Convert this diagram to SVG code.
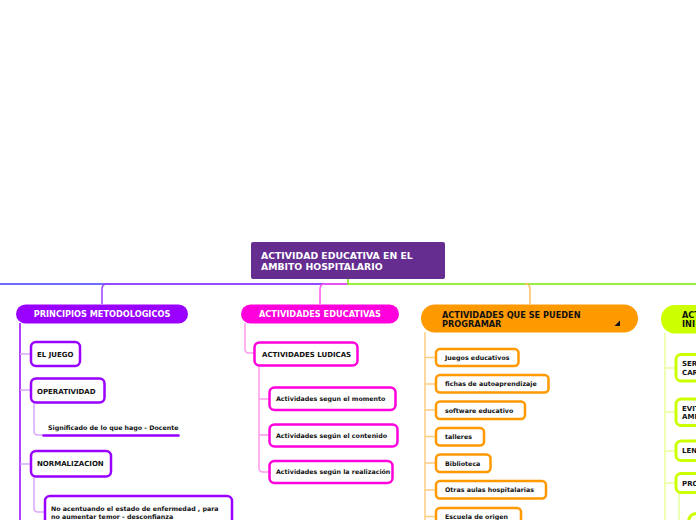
<svg xmlns="http://www.w3.org/2000/svg" width="696" height="520" viewBox="0 0 696 520">
<style>
text{font-family:"DejaVu Sans",Verdana,sans-serif;font-weight:bold;fill:#111}
.t0{font-size:9.3px;fill:#fff}
.t1{font-size:8.2px}
.w{fill:#fff}
.c{font-size:7px}
.l{font-size:6.3px}
.bp{fill:#fff;stroke:#9900ff;stroke-width:2.5}
.bm{fill:#fff;stroke:#ff00dd;stroke-width:2.5}
.bo{fill:#fff;stroke:#ff9900;stroke-width:2.5}
.bl{fill:#fff;stroke:#ccff00;stroke-width:3}
.k{fill:none;stroke-width:1.5}
.kp{stroke:#d9a8ff}
.km{stroke:#ff99ee}
.ko{stroke:#ffcc80}
.kl{stroke:#e8ff99}
</style>
<g id="connectors">
<path class="k" d="M0 284H348" stroke="#3b3bff"/>
<path class="k" d="M102 304V289Q102 284 107 284H348" stroke="#a040ff"/>
<path class="k" d="M320 304V289Q320 284 325 284H348" stroke="#ff55ee"/>
<path class="k" d="M348 279V284H696" stroke="#77e800"/>
<path class="k" d="M530 304V289Q530 284 525 284" stroke="#ffc060"/>
<path class="k" d="M20 323V520" stroke="#9900ff" stroke-width="2"/>
<path class="k kp" d="M20 354H31M20 390H31M20 464H31"/>
<path class="k kp" d="M34 403V431Q34 435 38 435H43"/>
<path class="k kp" d="M34 477V508Q34 512 38 512H45"/>
<path class="k km" d="M245 323V349Q245 353 249 353H255"/>
<path class="k km" d="M259 366V468Q259 472 263 472H270M259 399H270M259 435H270"/>
<path class="k ko" d="M425 332V520" stroke-width="2"/>
<path class="k ko" d="M425 357.5H436M425 384H436M425 410H436M425 436.5H436M425 463H436M425 490H436M425 516.5H436"/>
<path class="k kl" d="M665 333V520" stroke-width="2"/>
<path class="k kl" d="M665 368H676M665 412H676M665 451H676M665 483H676M679 493V520"/>
</g>
<g id="center">
<rect x="251" y="242" width="194" height="37" rx="2" fill="#662d91"/>
<text class="t0" x="261" y="259">ACTIVIDAD EDUCATIVA EN EL</text>
<text class="t0" x="261" y="270">AMBITO HOSPITALARIO</text>
</g>
<g id="principios">
<rect x="16" y="304.5" width="172" height="19" rx="9.5" fill="#9900ff"/>
<text class="t1 w" x="102" y="317" text-anchor="middle">PRINCIPIOS METODOLOGICOS</text>
</g>
<g id="el-juego"><rect class="bp" x="31" y="342" width="49" height="24" rx="5"/><text class="c" x="37" y="356.5">EL JUEGO</text></g>
<g id="operatividad"><rect class="bp" x="31" y="378.5" width="73.5" height="24" rx="5"/><text class="c" x="37" y="394">OPERATIVIDAD</text></g>
<g id="significado"><text class="l" x="48" y="430">Significado de lo que hago - Docente</text><path d="M43.5 435.5H178.5" stroke="#9900ff" stroke-width="2.5" stroke-linecap="round"/></g>
<g id="normalizacion"><rect class="bp" x="31" y="451" width="80" height="25.5" rx="5"/><text class="c" x="37" y="466">NORMALIZACION</text></g>
<g id="no-acentuando"><rect class="bp" x="45" y="496" width="187" height="40" rx="5"/><text class="l" x="51" y="510.5">No acentuando el estado de enfermedad , para</text><text class="l" x="51" y="518.5">no aumentar temor - desconfianza</text></g>
<g id="actividades-educativas">
<rect x="241" y="304.5" width="158" height="19" rx="9.5" fill="#ff00dd"/>
<text class="t1 w" x="320" y="317" text-anchor="middle">ACTIVIDADES EDUCATIVAS</text>
</g>
<g id="ludicas"><rect class="bm" x="254.5" y="342.5" width="103" height="23" rx="5"/><text class="c" x="262" y="356.5">ACTIVIDADES LUDICAS</text></g>
<g id="momento"><rect class="bm" x="269.5" y="387.5" width="126" height="22.5" rx="5"/><text class="l" x="276" y="401">Actividades segun el momento</text></g>
<g id="contenido"><rect class="bm" x="269.5" y="424.5" width="128" height="22" rx="5"/><text class="l" x="276" y="437.5">Actividades según el contenido</text></g>
<g id="realizacion"><rect class="bm" x="269.5" y="461" width="123" height="22" rx="5"/><text class="l" x="276" y="474">Actividades según la realización</text></g>
<g id="programar">
<rect x="421" y="304.5" width="217" height="28" rx="14" fill="#ff9900"/>
<text class="t1" x="442" y="317.5">ACTIVIDADES QUE SE PUEDEN</text>
<text class="t1" x="442" y="326.5">PROGRAMAR</text>
<path d="M620 320.5V326H614.5Z" fill="#111"/>
</g>
<g id="juegos"><rect class="bo" x="436" y="349" width="82.5" height="17" rx="4"/><text class="l" x="445" y="359.5">Juegos educativos</text></g>
<g id="fichas"><rect class="bo" x="436" y="375" width="112.5" height="17.5" rx="4"/><text class="l" x="445" y="386">fichas de autoaprendizaje</text></g>
<g id="software"><rect class="bo" x="436" y="401.5" width="89" height="17.5" rx="4"/><text class="l" x="445" y="412.5">software educativo</text></g>
<g id="talleres"><rect class="bo" x="436" y="428" width="48" height="17.5" rx="4"/><text class="l" x="445" y="439">talleres</text></g>
<g id="biblioteca"><rect class="bo" x="436" y="454.5" width="54.5" height="17.5" rx="4"/><text class="l" x="445" y="465.5">Biblioteca</text></g>
<g id="otras-aulas"><rect class="bo" x="436" y="481" width="110" height="17.5" rx="4"/><text class="l" x="445" y="492">Otras aulas hospitalarias</text></g>
<g id="escuela"><rect class="bo" x="436" y="508" width="85" height="17.5" rx="4"/><text class="l" x="445" y="518.5">Escuela de origen</text></g>
<g id="lime-node">
<rect x="661" y="305" width="60" height="28.5" rx="14" fill="#ccff00"/>
<text class="t1" x="682" y="317.5">ACT</text>
<text class="t1" x="682" y="326.5">INI</text>
</g>
<g id="ser"><rect class="bl" x="676" y="354.5" width="40" height="26.5" rx="5"/><text class="c" x="682" y="366">SER</text><text class="c" x="682" y="374.5">CAR</text></g>
<g id="evit"><rect class="bl" x="676" y="399" width="40" height="26.5" rx="5"/><text class="c" x="682" y="410.5">EVIT</text><text class="c" x="682" y="419">AME</text></g>
<g id="len"><rect class="bl" x="676" y="441" width="40" height="19.5" rx="5"/><text class="c" x="682" y="453">LEN</text></g>
<g id="pro"><rect class="bl" x="676" y="473.5" width="40" height="19" rx="5"/><text class="c" x="682" y="485.5">PRO</text></g>
<g id="lime-sub"><path d="M688.5 521Q689.5 514 697 513.5" fill="none" stroke="#ccff00" stroke-width="3"/></g>
</svg>
